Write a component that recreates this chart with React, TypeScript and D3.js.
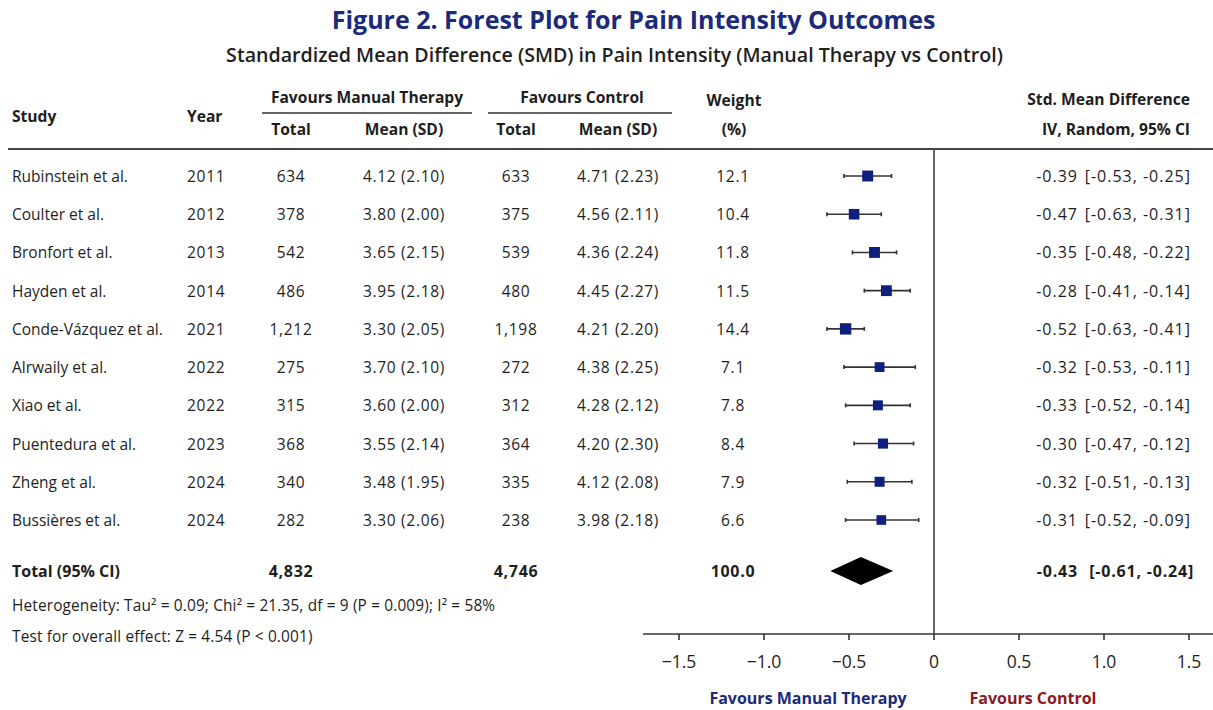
import { useEffect, useRef } from 'react';
import * as d3 from 'd3';

const studies = [
  'Rubinstein et al.',
  'Coulter et al.',
  'Bronfort et al.',
  'Hayden et al.',
  'Conde-Vázquez et al.',
  'Alrwaily et al.',
  'Xiao et al.',
  'Puentedura et al.',
  'Zheng et al.',
  'Bussières et al.',
];
const years = [2011, 2012, 2013, 2014, 2021, 2022, 2022, 2023, 2024, 2024];
const mtTotal = [634, 378, 542, 486, 1212, 275, 315, 368, 340, 282];
const mtMean = ['4.12 (2.10)', '3.80 (2.00)', '3.65 (2.15)', '3.95 (2.18)', '3.30 (2.05)', '3.70 (2.10)', '3.60 (2.00)', '3.55 (2.14)', '3.48 (1.95)', '3.30 (2.06)'];
const ctTotal = [633, 375, 539, 480, 1198, 272, 312, 364, 335, 238];
const ctMean = ['4.71 (2.23)', '4.56 (2.11)', '4.36 (2.24)', '4.45 (2.27)', '4.21 (2.20)', '4.38 (2.25)', '4.28 (2.12)', '4.20 (2.30)', '4.12 (2.08)', '3.98 (2.18)'];
const weights = [12.1, 10.4, 11.8, 11.5, 14.4, 7.1, 7.8, 8.4, 7.9, 6.6];
const smd = [-0.39, -0.47, -0.35, -0.28, -0.52, -0.32, -0.33, -0.30, -0.32, -0.31];
const ciLow = [-0.53, -0.63, -0.48, -0.41, -0.63, -0.53, -0.52, -0.47, -0.51, -0.52];
const ciHigh = [-0.25, -0.31, -0.22, -0.14, -0.41, -0.11, -0.14, -0.12, -0.13, -0.09];
const pooled = { est: -0.43, lo: -0.61, hi: -0.24 };
const totals = { mt: 4832, ct: 4746, weight: 100.0 };
const xTicks = [-1.5, -1.0, -0.5, 0, 0.5, 1.0, 1.5];

const W = 1213;
const H = 710;
const FONT = '"Open Sans", Lato, sans-serif';
const NAVY = '#1b2a7a';
const INK = '#1e1e1e';

export default function App() {
  const svgRef = useRef<SVGSVGElement>(null);

  useEffect(() => {
    if (!svgRef.current) return;
    const svg = d3.select(svgRef.current);
    svg.selectAll('*').remove();

    svg.append('rect').attr('width', W).attr('height', H).attr('fill', '#fff');

    const x = d3.scaleLinear().domain([-1.5, 1.5]).range([679, 1189]);
    const y = d3.scaleLinear().domain([0, studies.length - 1]).range([176, 520]);
    const size = d3.scaleSqrt().domain([6, 15]).range([9.5, 11.5]);
    const fmt = d3.format(',');
    // hyphen minus like the original table
    const f2 = (v: number) => v.toFixed(2);
    const tickFmt = (v: number) => (v === 0 ? '0' : d3.format('.1f')(v));

    const text = (
      tx: number,
      ty: number,
      s: string,
      opts: { anchor?: string; size?: number; weight?: string; fill?: string; ls?: number } = {}
    ) =>
      svg
        .append('text')
        .attr('x', tx)
        .attr('y', ty)
        .attr('text-anchor', opts.anchor ?? 'start')
        .attr('dominant-baseline', 'central')
        .attr('font-family', FONT)
        .attr('font-size', opts.size ?? 15.5)
        .attr('font-weight', opts.weight ?? 'normal')
        .attr('letter-spacing', opts.ls ?? 0)
        .attr('fill', opts.fill ?? INK)
        .text(s);

    // titles
    text(W / 2 + 27, 19, 'Figure 2. Forest Plot for Pain Intensity Outcomes', {
      anchor: 'middle', size: 25, weight: 'bold', fill: NAVY,
    });
    text(W / 2 + 8, 54, 'Standardized Mean Difference (SMD) in Pain Intensity (Manual Therapy vs Control)', {
      anchor: 'middle', size: 19.6, weight: '600',
    });

    // header
    const hb = { weight: 'bold', size: 15.6 };
    text(12, 116, 'Study', hb);
    text(187, 116, 'Year', hb);
    text(367, 97, 'Favours Manual Therapy', { ...hb, anchor: 'middle' });
    text(582, 97, 'Favours Control', { ...hb, anchor: 'middle' });
    text(291, 129, 'Total', { ...hb, anchor: 'middle' });
    text(404, 129, 'Mean (SD)', { ...hb, anchor: 'middle' });
    text(516, 129, 'Total', { ...hb, anchor: 'middle' });
    text(618, 129, 'Mean (SD)', { ...hb, anchor: 'middle' });
    text(734, 100, 'Weight', { ...hb, anchor: 'middle' });
    text(734, 129, '(%)', { ...hb, anchor: 'middle' });
    text(1190, 99, 'Std. Mean Difference', { ...hb, anchor: 'end' });
    text(1190, 129, 'IV, Random, 95% CI', { ...hb, anchor: 'end' });

    svg.append('line').attr('x1', 262).attr('x2', 472).attr('y1', 113).attr('y2', 113)
      .attr('stroke', '#333').attr('stroke-width', 1.5);
    svg.append('line').attr('x1', 488).attr('x2', 672).attr('y1', 113).attr('y2', 113)
      .attr('stroke', '#333').attr('stroke-width', 1.5);
    svg.append('line').attr('x1', 8).attr('x2', W).attr('y1', 149).attr('y2', 149)
      .attr('stroke', '#444').attr('stroke-width', 2);

    // rows
    const num = { ls: 0.7 };
    studies.forEach((s, i) => {
      const ry = y(i);
      text(12, ry, s);
      text(187, ry, String(years[i]), num);
      text(291, ry, fmt(mtTotal[i]), { ...num, anchor: 'middle' });
      text(404, ry, mtMean[i], { ...num, anchor: 'middle' });
      text(516, ry, fmt(ctTotal[i]), { ...num, anchor: 'middle' });
      text(618, ry, ctMean[i], { ...num, anchor: 'middle' });
      text(733, ry, d3.format('.1f')(weights[i]), { ...num, anchor: 'middle' });
      text(1078, ry, f2(smd[i]), { anchor: 'end', size: 16, ls: 1 });
      text(1191, ry, `[${f2(ciLow[i])}, ${f2(ciHigh[i])}]`, { anchor: 'end', size: 16, ls: 1 });
    });

    // zero line
    svg.append('line').attr('x1', x(0)).attr('x2', x(0)).attr('y1', 150).attr('y2', 634)
      .attr('stroke', '#333').attr('stroke-width', 1.5);

    // CIs and squares
    const g = svg.append('g');
    studies.forEach((_, i) => {
      const ry = y(i);
      g.append('line').attr('x1', x(ciLow[i])).attr('x2', x(ciHigh[i])).attr('y1', ry).attr('y2', ry)
        .attr('stroke', '#333').attr('stroke-width', 1.6);
      [ciLow[i], ciHigh[i]].forEach((v) => {
        g.append('line').attr('x1', x(v)).attr('x2', x(v)).attr('y1', ry - 2).attr('y2', ry + 2)
          .attr('stroke', '#333').attr('stroke-width', 1.6);
      });
      const sz = size(weights[i]);
      g.append('rect').attr('x', x(smd[i]) - sz / 2).attr('y', ry - sz / 2)
        .attr('width', sz).attr('height', sz).attr('fill', '#0f1f7e');
    });

    // total row
    const ty = 571;
    const tb = { weight: 'bold', size: 16 };
    text(12, ty, 'Total (95% CI)', tb);
    text(291, ty, fmt(totals.mt), { ...tb, anchor: 'middle', ls: 0.7 });
    text(516, ty, fmt(totals.ct), { ...tb, anchor: 'middle', ls: 0.7 });
    text(733, ty, d3.format('.1f')(totals.weight), { ...tb, anchor: 'middle', ls: 0.7 });
    text(1078, ty, f2(pooled.est), { ...tb, anchor: 'end', ls: 0.8 });
    text(1194, ty, `[${f2(pooled.lo)}, ${f2(pooled.hi)}]`, { ...tb, anchor: 'end', ls: 0.8 });

    const diamond = [
      [x(pooled.lo), ty],
      [x(pooled.est), ty - 14],
      [x(pooled.hi), ty],
      [x(pooled.est), ty + 14],
    ];
    svg.append('path').attr('d', d3.line()(diamond as [number, number][]) + 'Z').attr('fill', '#000');

    text(12, 605, 'Heterogeneity: Tau² = 0.09; Chi² = 21.35, df = 9 (P = 0.009); I² = 58%', { size: 15.4, ls: 0.15 });
    text(12, 636, 'Test for overall effect: Z = 4.54 (P < 0.001)', { size: 15.4, ls: 0.15 });

    // axis
    const axisY = 634;
    svg.append('line').attr('x1', 643).attr('x2', W).attr('y1', axisY).attr('y2', axisY)
      .attr('stroke', '#333').attr('stroke-width', 1.6);
    xTicks.forEach((t) => {
      svg.append('line').attr('x1', x(t)).attr('x2', x(t)).attr('y1', axisY).attr('y2', axisY + 6)
        .attr('stroke', '#333').attr('stroke-width', 1.6);
      text(x(t), axisY + 27, tickFmt(t).replace('-', '\u2212'), { anchor: 'middle', size: 17.5 });
    });

    text(808, 698, 'Favours Manual Therapy', { anchor: 'middle', weight: 'bold', size: 16, fill: NAVY });
    text(1033, 698, 'Favours Control', { anchor: 'middle', weight: 'bold', size: 16, fill: '#8b1a1f' });
  }, []);

  return (
    <svg
      ref={svgRef}
      width={W}
      height={H}
      viewBox={`0 0 ${W} ${H}`}
      style={{ position: 'absolute', left: 0, top: 0, display: 'block' }}
    />
  );
}
